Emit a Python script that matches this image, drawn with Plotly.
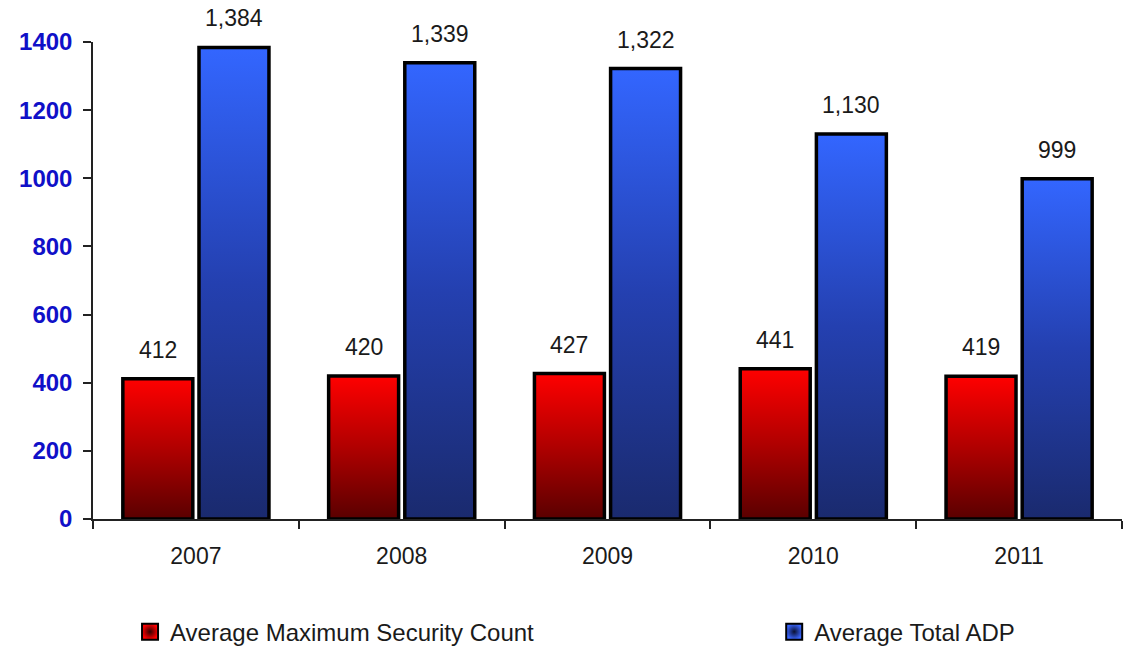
import plotly.graph_objects as go

# Yearly averages
years = ["2007", "2008", "2009", "2010", "2011"]
max_security = [412, 420, 427, 441, 419]
total_adp = [1384, 1339, 1322, 1130, 999]
series_names = ["Average Maximum Security Count", "Average Total ADP"]
y_ticks = [0, 200, 400, 600, 800, 1000, 1200, 1400]

RED_SCALE = [[0, "#5a0000"], [0.5, "#b00000"], [1, "#ff0000"]]
BLUE_SCALE = [[0, "#1a2a6e"], [0.5, "#2440b0"], [1, "#3366ff"]]

# Bar geometry in category units (each year occupies one unit)
BAR_W = 0.34
INNER_GAP = 0.015

FONT = "Liberation Sans, Arial, sans-serif"

fig = go.Figure()


def add_bars(values, offset_sign, scale, group):
    for i, v in enumerate(values):
        if offset_sign < 0:
            x0, x1 = i - INNER_GAP - BAR_W, i - INNER_GAP
        else:
            x0, x1 = i + INNER_GAP, i + INNER_GAP + BAR_W
        fig.add_trace(go.Scatter(
            x=[x0, x0, x1, x1, x0],
            y=[0, v, v, 0, 0],
            mode="lines",
            fill="toself",
            fillgradient=dict(type="vertical", colorscale=scale, start=0, stop=v),
            line=dict(color="black", width=3.5),
            legendgroup=group,
            showlegend=False,
            hoverinfo="skip",
        ))
        fig.add_annotation(
            x=(x0 + x1) / 2, y=v, text=f"{v:,}", showarrow=False,
            yanchor="middle", yshift=29,
            font=dict(family=FONT, size=23, color="#1a1a1a"),
        )


add_bars(max_security, -1, RED_SCALE, "sec")
add_bars(total_adp, 1, BLUE_SCALE, "adp")

# Legend swatches, one legend box per series
for name, col, edge, group, leg in [
        (series_names[0], "#ff0000", "#300000", "sec", "legend"),
        (series_names[1], "#3a66ff", "#0a1030", "adp", "legend2")]:
    fig.add_trace(go.Scatter(
        x=[None], y=[None], mode="markers", name=name, legendgroup=group,
        legend=leg,
        marker=dict(symbol="square", size=16, color=col,
                    gradient=dict(type="radial", color=edge),
                    line=dict(color="black", width=2)),
    ))

legend_common = dict(
    orientation="h", y=-0.237, yanchor="middle", xanchor="left",
    font=dict(family=FONT, size=24, color="#1a1a1a"),
    itemsizing="trace", bgcolor="rgba(0,0,0,0)",
)

fig.update_layout(
    width=1125, height=650,
    margin=dict(l=93, r=3, t=42, b=131, autoexpand=False),
    paper_bgcolor="white", plot_bgcolor="white",
    showlegend=True,
    legend=dict(x=0.036, **legend_common),
    legend2=dict(x=0.662, **legend_common),
    xaxis=dict(
        range=[-0.5, 4.5], tickmode="array",
        tickvals=list(range(len(years))), ticktext=years,
        ticks="", showgrid=False, zeroline=False,
        showline=True, linecolor="#222", linewidth=1.5,
        tickfont=dict(family=FONT, size=23, color="#1a1a1a"),
        ticklabelstandoff=16,
        minor=dict(ticks="outside", ticklen=8, tickwidth=1.5, tickcolor="#222",
                   tick0=-0.5, dtick=1, showgrid=False),
        fixedrange=True,
    ),
    yaxis=dict(
        range=[0, 1400], tickmode="array", tickvals=y_ticks,
        ticks="outside", ticklen=8, tickwidth=1.5, tickcolor="#222",
        showgrid=False, zeroline=False,
        showline=True, linecolor="#222", linewidth=1.5,
        tickfont=dict(family=FONT, size=24, color="#1010c8", weight="bold"),
        ticklabelstandoff=6,
        fixedrange=True,
    ),
)

fig.write_html("out.html")
